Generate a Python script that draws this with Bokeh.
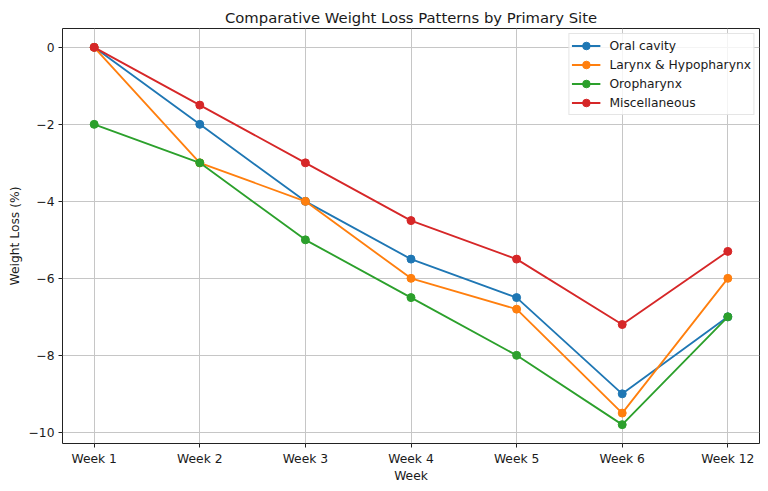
from bokeh.plotting import figure
from bokeh.models import Range1d, FixedTicker, Legend, LegendItem
from bokeh.embed import file_html
from bokeh.resources import INLINE

# Weekly weight change (%) by primary tumour site
weeks = ["Week 1", "Week 2", "Week 3", "Week 4", "Week 5", "Week 6", "Week 12"]
oral_cavity = [0, -2, -4, -5.5, -6.5, -9, -7]
larynx_hypopharynx = [0, -3, -4, -6, -6.8, -9.5, -6]
oropharynx = [-2, -3, -5, -6.5, -8, -9.8, -7]
miscellaneous = [0, -1.5, -3, -4.5, -5.5, -7.2, -5.3]
y_ticks = [0, -2, -4, -6, -8, -10]

series = [
    ("Oral cavity", oral_cavity, "#1f77b4"),
    ("Larynx & Hypopharynx", larynx_hypopharynx, "#ff7f0e"),
    ("Oropharynx", oropharynx, "#2ca02c"),
    ("Miscellaneous", miscellaneous, "#d62728"),
]

FONT = "DejaVu Sans"
TEXT = "#1a1a1a"

x = list(range(len(weeks)))

p = figure(
    width=768, height=491,
    output_backend="svg", toolbar_location=None,
    x_range=Range1d(-0.3, len(weeks) - 1 + 0.3),
    y_range=Range1d(-10.29, 0.49),
    min_border_left=62, min_border_right=9,
    min_border_top=28, min_border_bottom=48,
    title="Comparative Weight Loss Patterns by Primary Site",
)

p.background_fill_color = "white"
p.border_fill_color = "white"
p.outline_line_color = "#222222"
p.outline_line_width = 1

p.title.align = "center"
p.title.text_font = FONT
p.title.text_font_size = "14.8px"
p.title.text_font_style = "normal"
p.title.text_color = TEXT
p.title.standoff = 5

# axes
p.xaxis.ticker = FixedTicker(ticks=x)
p.xaxis.major_label_overrides = {i: w for i, w in enumerate(weeks)}
p.yaxis.ticker = FixedTicker(ticks=y_ticks)
p.yaxis.major_label_overrides = {
    t: (str(t) if t >= 0 else "\u2212" + str(-t)) for t in y_ticks
}
p.xaxis.axis_label = "Week"
p.yaxis.axis_label = "Weight Loss (%)"

for ax in (p.xaxis[0], p.yaxis[0]):
    ax.axis_line_color = None
    ax.major_tick_line_color = "#222222"
    ax.major_tick_out = 4
    ax.major_tick_in = 0
    ax.minor_tick_line_color = None
    ax.major_label_standoff = 4
    ax.major_label_text_font = FONT
    ax.major_label_text_font_size = "12.3px"
    ax.major_label_text_color = TEXT
    ax.axis_label_text_font = FONT
    ax.axis_label_text_font_size = "12.3px"
    ax.axis_label_text_font_style = "normal"
    ax.axis_label_text_color = TEXT
    ax.axis_label_standoff = 4
p.xaxis[0].axis_label_standoff = 0

# grid
for g in (p.xgrid[0], p.ygrid[0]):
    g.grid_line_color = "#c6c6c6"
    g.grid_line_width = 1

items = []
for name, vals, color in series:
    ln = p.line(x, vals, line_color=color, line_width=1.85)
    sc = p.scatter(x, vals, size=8, fill_color=color, line_color=color)
    items.append(LegendItem(label=name, renderers=[ln, sc]))

legend = Legend(
    items=items,
    location="top_right",
    margin=5,
    padding=2,
    spacing=0,
    glyph_width=29,
    glyph_height=19,
    label_height=19,
    label_standoff=9,
    label_text_font=FONT,
    label_text_font_size="12.3px",
    label_text_color=TEXT,
    border_line_color="#cccccc",
    border_line_width=1,
    background_fill_color="white",
    background_fill_alpha=0.8,
)
p.add_layout(legend)

open("out.html", "w").write(file_html(p, INLINE))
